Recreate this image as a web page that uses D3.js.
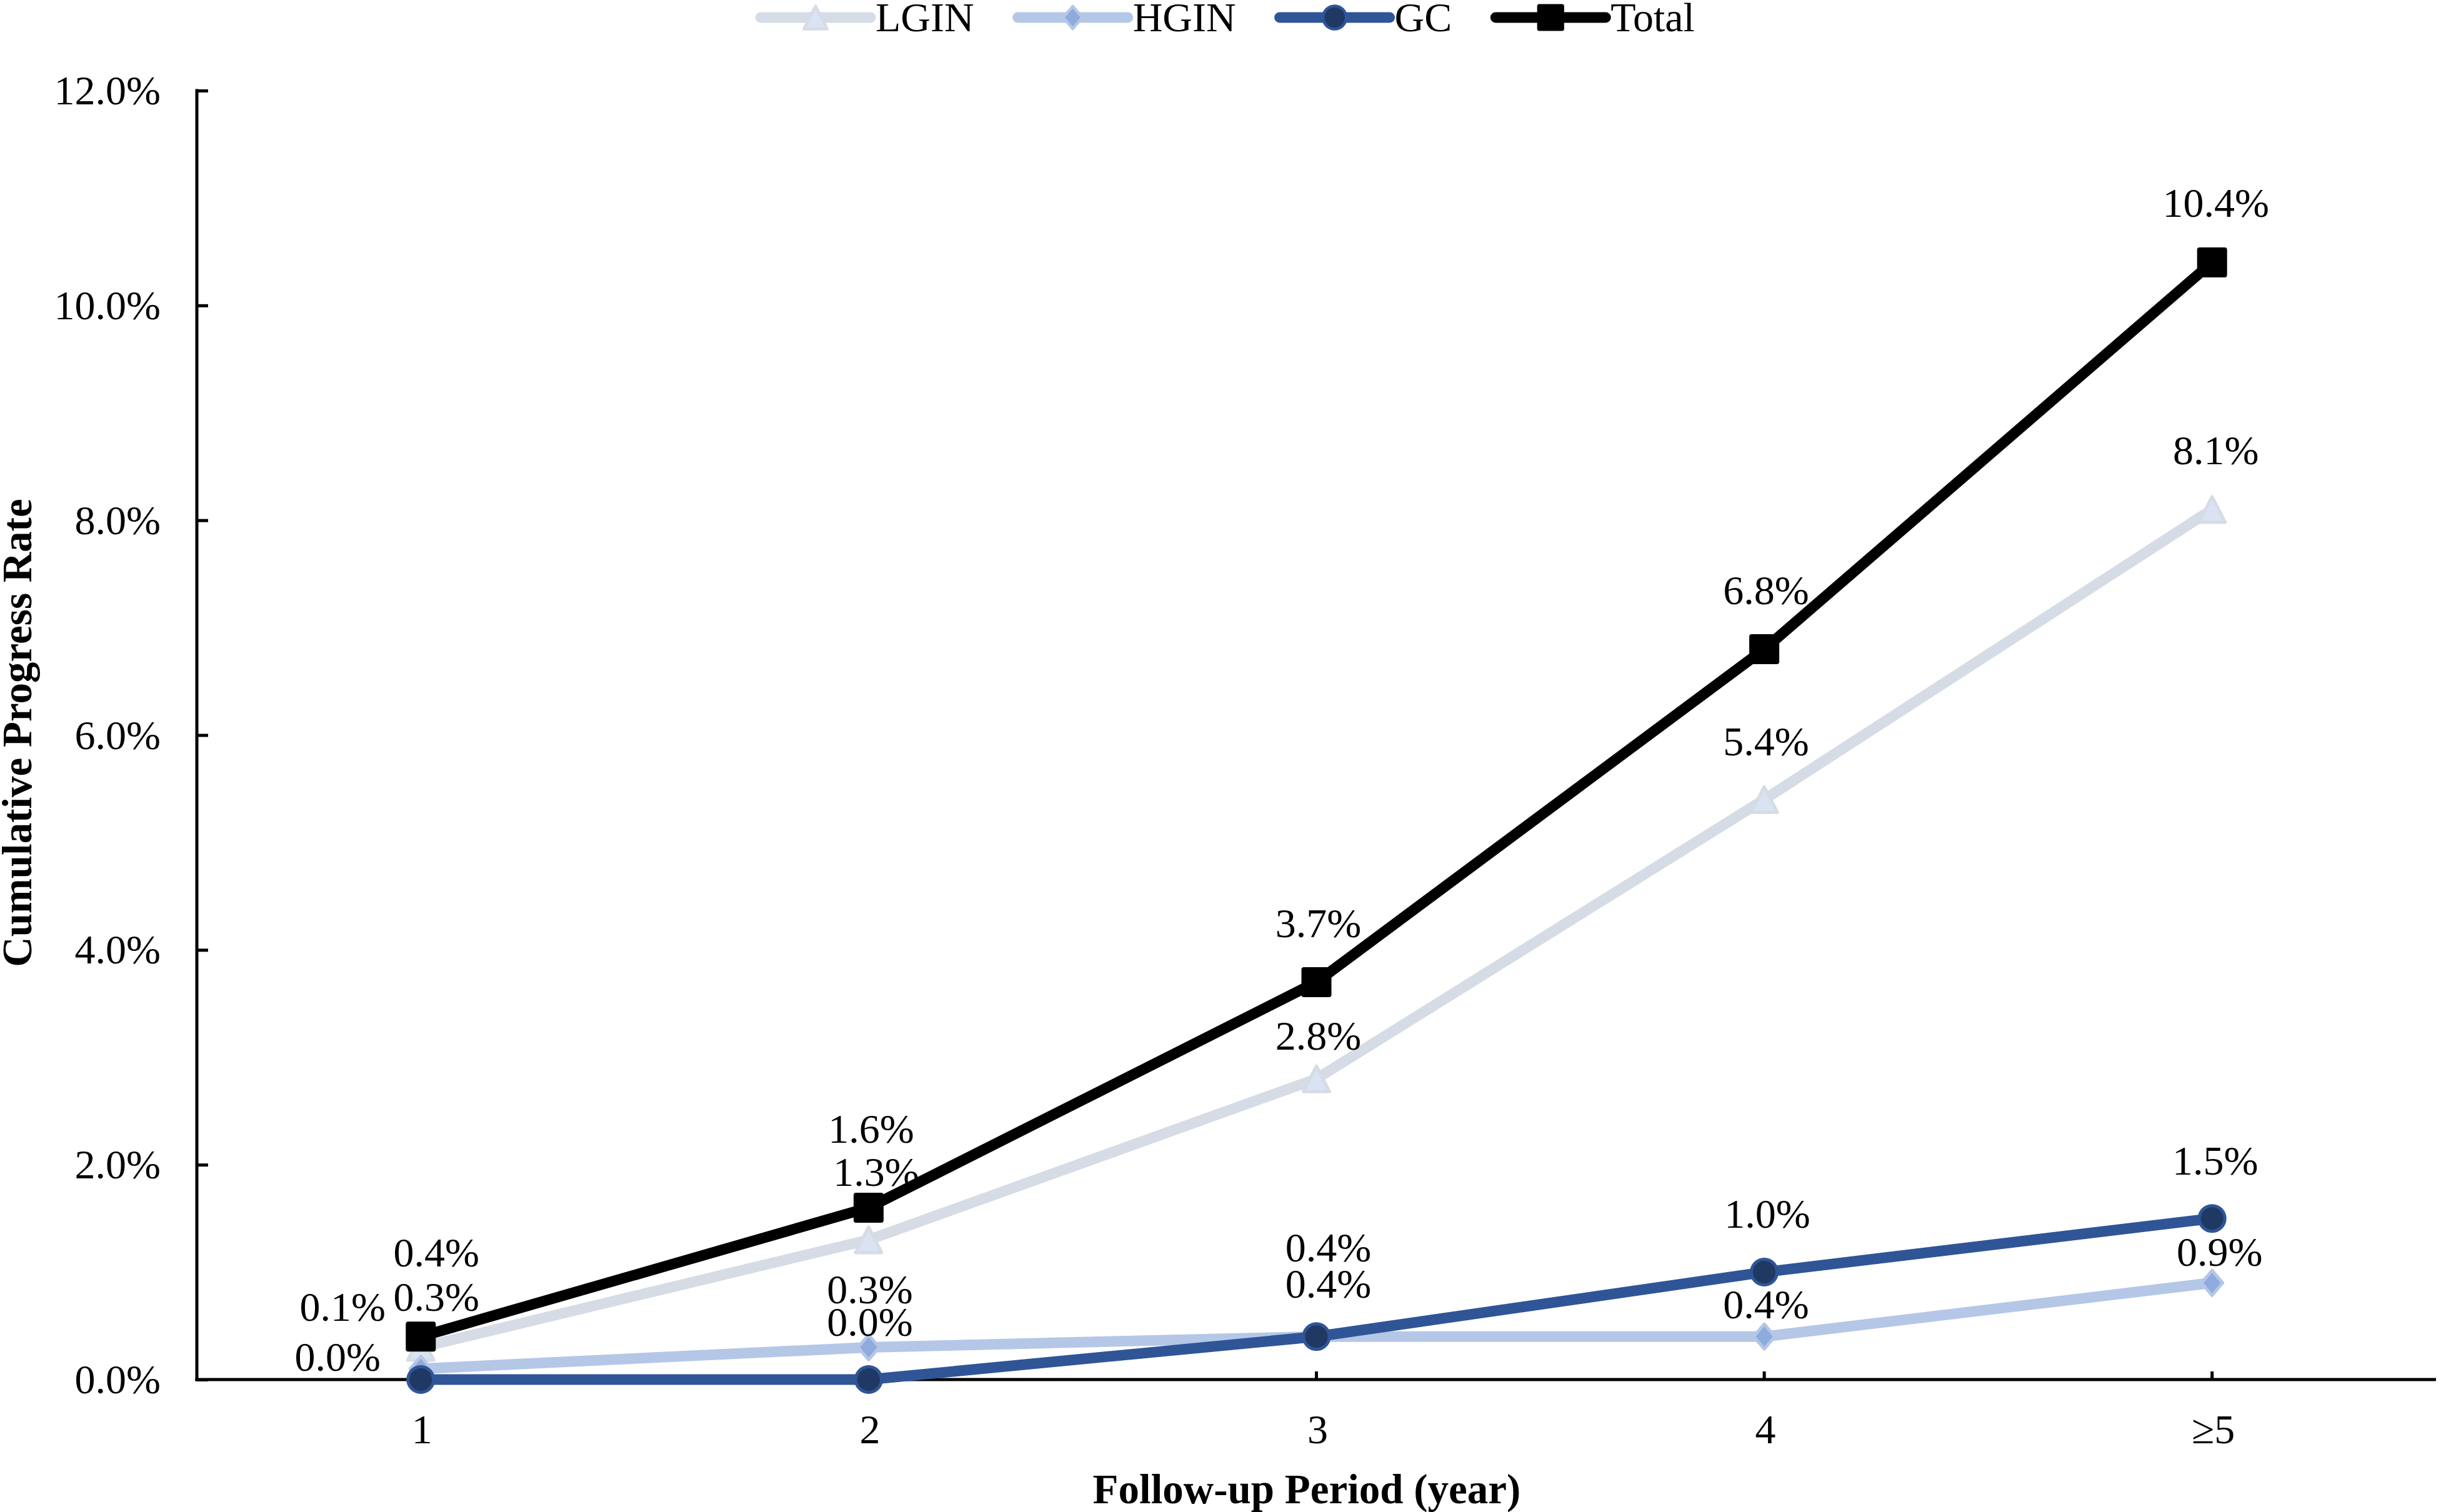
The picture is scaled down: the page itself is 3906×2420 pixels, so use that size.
<!DOCTYPE html>
<html>
<head>
<meta charset="utf-8">
<script src="https://cdn.jsdelivr.net/npm/d3@7/dist/d3.min.js"></script>
<style>
  html, body { margin: 0; padding: 0; background: #fff; }
  svg { display: block; }
  text { font-family: "Liberation Serif", "Times New Roman", serif; fill: #000; }
</style>
</head>
<body>
<svg id="chart" width="3906" height="2420"></svg>
<script>
// ---------------- DATA ----------------
const categories = ["1", "2", "3", "4", "\u22655"];
const seriesNames = ["LGIN", "HGIN", "GC", "Total"];
const lginValues  = [0.3, 1.3, 2.8, 5.4, 8.1];
const hginValues  = [0.1, 0.3, 0.4, 0.4, 0.9];
const gcValues    = [0.0, 0.0, 0.4, 1.0, 1.5];
const totalValues = [0.4, 1.6, 3.7, 6.8, 10.4];
const yTickValues = [0, 2, 4, 6, 8, 10, 12];
const yAxisTitle = "Cumulative Progress Rate";
const xAxisTitle = "Follow-up Period (year)";

// ---------------- LAYOUT / STYLE ----------------
const W = 3906, H = 2420;
const plot = { left: 315, right: 3898, top: 145, bottom: 2208 };
const FONT = 66;

const styles = {
  LGIN:  { line: "#D6DCE5", fill: "#DAE3F3", stroke: "#D6DCE5", marker: "triangle" },
  HGIN:  { line: "#B4C7E7", fill: "#8FAADC", stroke: "#B4C7E7", marker: "diamond" },
  GC:    { line: "#2F5597", fill: "#203864", stroke: "#2F5597", marker: "circle" },
  Total: { line: "#000000", fill: "#000000", stroke: "#000000", marker: "square" }
};

// label centre offsets from each point (pixels), as placed in the original
const labelNudge = {
  LGIN:  [[25, -80], [12, -109], [3, -69], [3, -93], [6, -94]],
  HGIN:  [[-125, -99], [2, -92], [19, -142], [3, -51], [12, -49]],
  GC:    [[-133, -36], [2, -92], [19, -84], [5, -93], [5, -92]],
  Total: [[25, -134], [4, -126], [3, -94], [3, -94], [6, -95]]
};

const seriesValues = { LGIN: lginValues, HGIN: hginValues, GC: gcValues, Total: totalValues };

// ---------------- SCALES ----------------
const x = d3.scaleBand().domain(categories).range([plot.left, plot.right]).padding(0);
const xc = c => x(c) + x.bandwidth() / 2;
const y = d3.scaleLinear().domain([0, 12]).range([plot.bottom, plot.top]);
const pct = d3.format(".1%");

const svg = d3.select("#chart");
svg.append("rect").attr("width", W).attr("height", H).attr("fill", "#fff");

// ---------------- AXES ----------------
const yAxis = d3.axisRight(y).tickValues(yTickValues).tickSize(18).tickFormat("");
const gy = svg.append("g").attr("transform", `translate(${plot.left},0)`).call(yAxis);
gy.select(".domain").remove();
gy.selectAll(".tick line").attr("stroke", "#000").attr("stroke-width", 5);

svg.append("g").selectAll("text").data(yTickValues).join("text")
  .attr("x", plot.left - 58)
  .attr("y", d => y(d) + 22)
  .attr("text-anchor", "end")
  .attr("font-size", FONT)
  .text(d => pct(d / 100));

const xAxis = d3.axisTop(x).tickSize(13).tickFormat("");
const gx = svg.append("g").attr("transform", `translate(0,${plot.bottom})`).call(xAxis);
gx.select(".domain").remove();
gx.selectAll(".tick line").attr("stroke", "#000").attr("stroke-width", 5);

svg.append("g").selectAll("text").data(categories).join("text")
  .attr("x", d => xc(d) + 2)
  .attr("y", 2310)
  .attr("text-anchor", "middle")
  .attr("font-size", FONT)
  .text(d => d);

// axis lines
svg.append("line").attr("x1", plot.left).attr("x2", plot.left)
  .attr("y1", plot.top - 2.5).attr("y2", plot.bottom + 2.5)
  .attr("stroke", "#000").attr("stroke-width", 5);
svg.append("line").attr("x1", plot.left - 2.5).attr("x2", plot.right)
  .attr("y1", plot.bottom).attr("y2", plot.bottom)
  .attr("stroke", "#000").attr("stroke-width", 5);

// axis titles
svg.append("text")
  .attr("transform", `translate(50,1173) rotate(-90)`)
  .attr("text-anchor", "middle")
  .attr("font-size", 67).attr("font-weight", "bold")
  .text(yAxisTitle);
svg.append("text")
  .attr("x", 2091).attr("y", 2406)
  .attr("text-anchor", "middle")
  .attr("font-size", 67).attr("font-weight", "bold")
  .text(xAxisTitle);

// ---------------- MARKERS ----------------
function drawMarker(g, type, st, cx, cy, s) {
  s = s || 1;
  if (type === "square") {
    const a = 48 * s;
    g.append("rect").attr("x", cx - a / 2).attr("y", cy - a / 2)
      .attr("width", a).attr("height", a).attr("rx", 4 * s)
      .attr("fill", st.fill);
  } else if (type === "triangle") {
    const w = 42 * s, h = 41 * s;
    g.append("path")
      .attr("d", `M${cx},${cy - h / 2}L${cx + w / 2},${cy + h / 2}L${cx - w / 2},${cy + h / 2}Z`)
      .attr("fill", st.fill).attr("stroke", st.stroke).attr("stroke-width", 5 * s)
      .attr("stroke-linejoin", "round");
  } else if (type === "diamond") {
    const w = 34 * s, h = 40 * s;
    g.append("path")
      .attr("d", `M${cx},${cy - h / 2}L${cx + w / 2},${cy}L${cx},${cy + h / 2}L${cx - w / 2},${cy}Z`)
      .attr("fill", st.fill).attr("stroke", st.stroke).attr("stroke-width", 5 * s)
      .attr("stroke-linejoin", "round");
  } else if (type === "circle") {
    g.append("circle").attr("cx", cx).attr("cy", cy).attr("r", 20.5 * s)
      .attr("fill", st.fill).attr("stroke", st.stroke).attr("stroke-width", 5 * s);
  }
}

// ---------------- SERIES ----------------
const line = d3.line().x((d, i) => xc(categories[i])).y(d => y(d));

seriesNames.forEach(name => {
  const vals = seriesValues[name];
  const st = styles[name];
  const g = svg.append("g");
  g.append("path").datum(vals)
    .attr("d", line)
    .attr("fill", "none")
    .attr("stroke", st.line)
    .attr("stroke-width", 17)
    .attr("stroke-linejoin", "round")
    .attr("stroke-linecap", "round");
  vals.forEach((v, i) => drawMarker(g, st.marker, st, xc(categories[i]), y(v)));
});

// data labels
seriesNames.forEach(name => {
  const vals = seriesValues[name];
  svg.append("g").selectAll("text").data(vals).join("text")
    .attr("x", (d, i) => xc(categories[i]) + labelNudge[name][i][0])
    .attr("y", (d, i) => y(d) + labelNudge[name][i][1] + 22)
    .attr("text-anchor", "middle")
    .attr("font-size", FONT)
    .text(d => pct(d / 100));
});

// ---------------- LEGEND ----------------
const legend = svg.append("g");
let lx = 1217;
const ly = 28;
seriesNames.forEach(name => {
  const st = styles[name];
  legend.append("line").attr("x1", lx).attr("x2", lx + 176)
    .attr("y1", ly).attr("y2", ly)
    .attr("stroke", st.line).attr("stroke-width", 17).attr("stroke-linecap", "round");
  drawMarker(legend, st.marker, st, lx + 88, ly, 0.9);
  const t = legend.append("text").attr("x", lx + 184).attr("y", ly + 22)
    .attr("font-size", FONT).text(name);
  lx += 184 + t.node().getComputedTextLength() + 70;
});
</script>
</body>
</html>
